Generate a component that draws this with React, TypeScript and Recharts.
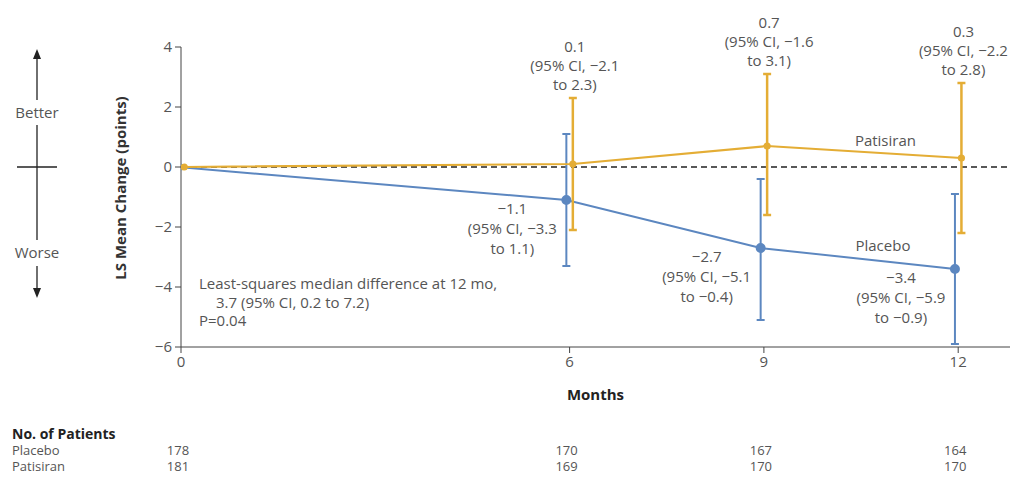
import React from 'react'
import { LineChart, Line, XAxis, YAxis, ErrorBar, ReferenceLine } from 'recharts'

// months of follow-up
const months = [0, 6, 9, 12]

// LS mean change with 95% CI bounds (null = baseline, no CI)
const placeboMean = [0, -1.1, -2.7, -3.4]
const placeboLow = [null, -3.3, -5.1, -5.9]
const placeboHigh = [null, 1.1, -0.4, -0.9]

const patisiranMean = [0, 0.1, 0.7, 0.3]
const patisiranLow = [null, -2.1, -1.6, -2.2]
const patisiranHigh = [null, 2.3, 3.1, 2.8]

// number of patients at risk
const placeboPatients = [178, 170, 167, 164]
const patisiranPatients = [181, 169, 170, 170]

const yTicks = [-6, -4, -2, 0, 2, 4]

const GOLD = '#E4AD35'
const BLUE = '#5C87C0'
const FONT = '"Open Sans", sans-serif'
const TEXT = '#555'
const FS = 15

const build = (mean: number[], low: (number | null)[], high: (number | null)[], shift: number) =>
    months.map((m, i) => ({
        month: m + shift,
        mean: mean[i],
        low: low[i],
        high: high[i],
        err: low[i] == null ? null : [mean[i] - (low[i] as number), (high[i] as number) - mean[i]],
    }))

// the two arms are dodged a little around each visit
const placeboData = build(placeboMean, placeboLow, placeboHigh, -0.05)
const patisiranData = build(patisiranMean, patisiranLow, patisiranHigh, 0.05)

const fmt = (v: number) => (v < 0 ? '\u2212' : '') + Math.abs(v).toFixed(1)
const ciLines = (d: any) => [fmt(d.mean), `(95% CI, ${fmt(d.low)}`, `to ${fmt(d.high)})`]

const patisiranCiLabel = (props: any) => {
    const { x, y, index } = props
    const d = patisiranData[index]
    if (d.low == null) return null
    return (
        <text textAnchor="middle" fontSize={FS} fill={TEXT} fontFamily={FONT}>
            {ciLines(d).map((t, i) => (
                <tspan key={i} x={x + 2} y={y - 8 - (2 - i) * 19}>{t}</tspan>
            ))}
        </text>
    )
}

const placeboLabel = (props: any) => {
    const { x, y, index } = props
    const d = placeboData[index]
    if (d.low == null) return null
    return (
        <g>
            <text textAnchor="middle" fontSize={FS} fill={TEXT} fontFamily={FONT}>
                {ciLines(d).map((t, i) => (
                    <tspan key={i} x={x - 54} y={y + 14 + i * 20}>{t}</tspan>
                ))}
            </text>
            {index === months.length - 1 && (
                <text x={x - 72} y={y - 18} textAnchor="middle" fontSize={FS} fill={TEXT} fontFamily={FONT}>Placebo</text>
            )}
        </g>
    )
}

const patisiranName = (props: any) => {
    const { x, y, index } = props
    if (index !== months.length - 1) return null
    return <text x={x - 76} y={y - 12} textAnchor="middle" fontSize={FS} fill={TEXT} fontFamily={FONT}>Patisiran</text>
}

const countTick = (label: string, counts: number[], header?: string) => (props: any) => {
    const { x, y, index } = props
    return (
        <g fontFamily={FONT} fontSize={13} fill={TEXT}>
            {index === 0 && header && (
                <text x={12} y={y + 2} fontWeight="bold" fill="#222" fontSize={14}>{header}</text>
            )}
            {index === 0 && <text x={12} y={y + 18}>{label}</text>}
            <text x={x - 3} y={y + 18} textAnchor="middle">{counts[index]}</text>
        </g>
    )
}

const yLabel = (props: any) => {
    const { viewBox } = props
    const cx = 126
    const cy = viewBox.y + viewBox.height / 2 - 9
    return (
        <text transform={`translate(${cx},${cy}) rotate(-90)`} textAnchor="middle" fontSize={15} fontWeight="bold" fill="#333" fontFamily={FONT}>
            LS Mean Change (points)
        </text>
    )
}

const hidden = { stroke: 'none', dot: false, activeDot: false, legendType: 'none' as const, isAnimationActive: false }

export default function App() {
    return (
        <div style={{ position: 'absolute', left: 0, top: 0, width: 1013, height: 483, background: '#fff' }}>
            <LineChart width={1013} height={483} margin={{ top: 47, right: 3, left: 0, bottom: 14 }}>
                {/* bottom axes stack in id order: months, then the two patient rows */}
                <XAxis xAxisId="a" type="number" dataKey="month" domain={[0, 12.8]} ticks={months} allowDataOverflow
                    height={90} stroke="#444" tickSize={6} tickMargin={3}
                    tick={{ fontSize: FS, fill: TEXT, fontFamily: FONT }}
                    label={{ value: 'Months', position: 'insideTop', offset: 42, fontSize: 15, fontWeight: 'bold', fill: '#222', fontFamily: FONT }} />
                <XAxis xAxisId="b" type="number" dataKey="month" domain={[0, 12.8]} ticks={months} allowDataOverflow height={16}
                    axisLine={false} tickLine={false} tickSize={0} tickMargin={0}
                    tick={countTick('Placebo', placeboPatients, 'No. of Patients')} />
                <XAxis xAxisId="c" type="number" dataKey="month" domain={[0, 12.8]} ticks={months} allowDataOverflow height={16}
                    axisLine={false} tickLine={false} tickSize={0} tickMargin={0}
                    tick={countTick('Patisiran', patisiranPatients)} />
                <YAxis type="number" domain={[-6, 4]} ticks={yTicks} width={181} stroke="#444" tickSize={6} tickMargin={3}
                    tickFormatter={(v: number) => (v < 0 ? '\u2212' + Math.abs(v) : String(v))}
                    tick={{ fontSize: FS, fill: TEXT, fontFamily: FONT }}
                    label={yLabel} />
                <ReferenceLine xAxisId="a" y={0} stroke="#222" strokeDasharray="6 4" strokeWidth={1.3} />
                <Line xAxisId="b" data={placeboData} dataKey="mean" {...hidden} />
                <Line xAxisId="c" data={patisiranData} dataKey="mean" {...hidden} />
                <Line xAxisId="a" data={placeboData} dataKey="mean" stroke={BLUE} strokeWidth={2}
                    dot={{ r: 4, fill: BLUE, stroke: BLUE }} activeDot={false} isAnimationActive={false}
                    label={placeboLabel}>
                    <ErrorBar dataKey="err" direction="y" width={4} stroke={BLUE} strokeWidth={2} />
                </Line>
                <Line xAxisId="a" data={patisiranData} dataKey="mean" stroke={GOLD} strokeWidth={2.2}
                    dot={{ r: 2.5, fill: GOLD, stroke: GOLD }} activeDot={false} isAnimationActive={false}
                    label={patisiranName}>
                    <ErrorBar dataKey="err" direction="y" width={4} stroke={GOLD} strokeWidth={2.5} />
                </Line>
                <Line xAxisId="a" data={patisiranData} dataKey="high" {...hidden} label={patisiranCiLabel} />
            </LineChart>
            <svg width={1013} height={483} style={{ position: 'absolute', left: 0, top: 0, pointerEvents: 'none' }}
                fontFamily={FONT}>
                <line x1={37} y1={56} x2={37} y2={100} stroke="#222" strokeWidth={1.3} />
                <line x1={37} y1={125} x2={37} y2={240} stroke="#222" strokeWidth={1.3} />
                <line x1={37} y1={266} x2={37} y2={290} stroke="#222" strokeWidth={1.3} />
                <polygon points="33,59 37,49 41,59" fill="#222" />
                <polygon points="33,288 37,298 41,288" fill="#222" />
                <line x1={17} y1={167} x2={57} y2={167} stroke="#222" strokeWidth={1.3} />
                <text x={37} y={118} textAnchor="middle" fontSize={FS} fill={TEXT}>Better</text>
                <text x={37} y={258} textAnchor="middle" fontSize={FS} fill={TEXT}>Worse</text>
                <text fontSize={FS} fill={TEXT}>
                    <tspan x={199} y={289}>Least-squares median difference at 12 mo,</tspan>
                    <tspan x={216} y={308}>3.7 (95% CI, 0.2 to 7.2)</tspan>
                    <tspan x={199} y={326}>P=0.04</tspan>
                </text>
            </svg>
        </div>
    )
}
